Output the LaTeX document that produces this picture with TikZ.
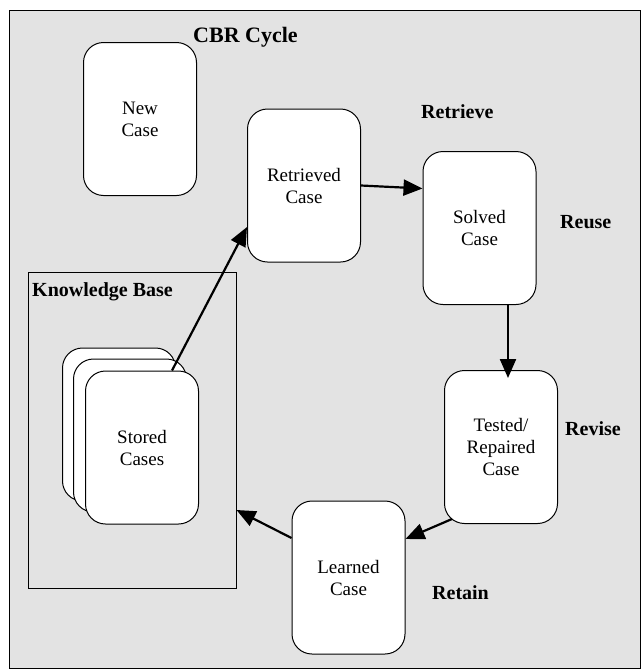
\documentclass[tikz,border=0pt]{standalone}
\usepackage{fontspec}
\setmainfont{Liberation Serif}
\usetikzlibrary{arrows.meta}
\definecolor{cbrgray}{RGB}{227,227,227}
\tikzset{
  casebox/.style={draw=black, line width=1pt, fill=white, rounded corners=20pt,
    minimum width=113pt, minimum height=153pt, align=center, inner sep=0pt,
    font=\fontsize{19}{22}\selectfont},
  phase/.style={anchor=base west, inner sep=0pt, font=\fontsize{20}{24}\selectfont\bfseries},
  flow/.style={line width=2.2pt, -{Triangle[length=19pt,width=16pt]}},
}
\begin{document}
\begin{tikzpicture}[x=1pt,y=-1pt]
\useasboundingbox (0,0) rectangle (642,670);
\fill[white] (0,0) rectangle (642,670);
\draw[line width=1pt, fill=cbrgray] (9,10) rectangle (640,668);
\node[anchor=base west, inner sep=0pt, font=\fontsize{22}{26}\selectfont\bfseries] (title) at (193,42) {CBR Cycle};
% Knowledge base
\node[draw=black, line width=1pt, minimum width=208pt, minimum height=316pt, inner sep=0pt] (kb) at (132,430) {};
\node[phase] (kblabel) at (32,296) {Knowledge Base};
% cards
\node[casebox] (new) at (140,119) {New\\Case};
\node[casebox] (back) at (119,424.5) {};
\node[casebox] (mid) at (130,435.5) {};
\node[casebox] (stored) at (142,447.5) {Stored\\Cases};
\node[casebox] (retr) at (304,185.5) {Retrieved\\Case};
\node[casebox] (solved) at (479.5,228) {Solved\\Case};
\node[casebox] (tested) at (501,447) {Tested/\\Repaired\\Case};
\node[casebox] (learned) at (348.5,577.5) {Learned\\Case};
% phase labels
\node[phase] (lretrieve) at (421,118) {Retrieve};
\node[phase] (lreuse) at (560,228) {Reuse};
\node[phase] (lrevise) at (565,435) {Revise};
\node[phase] (lretain) at (432,599) {Retain};
% arrows
\draw[flow] ([xshift=30pt]stored.north) -- ([yshift=-41.5pt]retr.west);
\draw[flow] (retr.east) -- ([yshift=-3pt]retr.east -| solved.west);
\draw[flow] ([xshift=28.5pt]solved.south) -- ([xshift=28.5pt,yshift=-8pt]solved.south |- tested.north);
\draw[flow] ([xshift=8pt,yshift=5pt]tested.south west) -- ([yshift=38.5pt]learned.east);
\draw[flow] ([yshift=39.5pt]learned.west) -- ([yshift=-80pt]kb.east);
\end{tikzpicture}
\end{document}
